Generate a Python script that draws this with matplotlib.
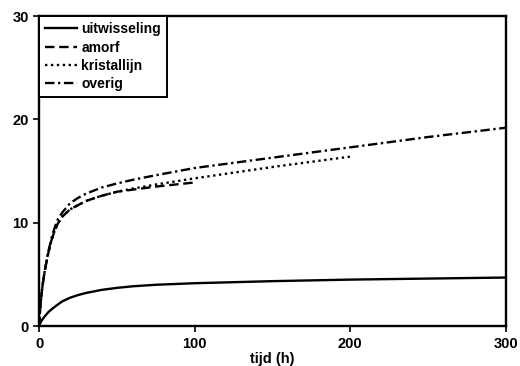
import matplotlib
matplotlib.use("Agg")
import matplotlib.pyplot as plt

plt.rcParams['font.family'] = ['Liberation Sans', 'DejaVu Sans']
plt.rcParams['font.weight'] = 'bold'
plt.rcParams['axes.labelweight'] = 'bold'

t_all = [0, 1, 2, 3, 4, 6, 8, 10, 12, 15, 20, 25, 30, 40, 50, 60, 75, 100, 125, 150, 200, 250, 300]
uitwisseling = [0, 0.35, 0.6, 0.82, 1.0, 1.35, 1.62, 1.85, 2.08, 2.4, 2.75, 3.0, 3.2, 3.5, 3.7, 3.85, 4.0, 4.15, 4.25, 4.35, 4.5, 4.6, 4.7]
overig = [0, 2.2, 3.6, 4.7, 5.6, 7.2, 8.5, 9.5, 10.3, 11.0, 11.9, 12.4, 12.8, 13.4, 13.8, 14.15, 14.6, 15.3, 15.8, 16.3, 17.3, 18.3, 19.2]

t_amorf = [0, 1, 2, 3, 4, 6, 8, 10, 12, 15, 20, 25, 30, 40, 50, 60, 75, 100]
amorf = [0, 2.2, 3.6, 4.7, 5.6, 7.1, 8.3, 9.2, 9.9, 10.6, 11.3, 11.7, 12.1, 12.6, 13.0, 13.2, 13.5, 13.9]

t_kris = [0, 1, 2, 3, 4, 6, 8, 10, 12, 15, 20, 25, 30, 40, 50, 60, 75, 100, 125, 150, 200]
kristallijn = [0, 2.2, 3.6, 4.7, 5.6, 7.1, 8.3, 9.2, 9.9, 10.6, 11.3, 11.7, 12.1, 12.6, 13.0, 13.3, 13.7, 14.3, 14.85, 15.4, 16.4]

xticks = [0, 100, 200, 300]
yticks = [0, 10, 20, 30]

fig = plt.figure(figsize=(5.2, 3.66), dpi=100)
ax = fig.add_axes([0.075, 0.109, 0.898, 0.847])

lw = 1.7
ax.plot(t_all, uitwisseling, color='black', lw=lw, linestyle='-', label='uitwisseling')
ax.plot(t_amorf, amorf, color='black', lw=lw, linestyle=(0, (4, 2)), label='amorf')
ax.plot(t_kris, kristallijn, color='black', lw=lw, linestyle=(0, (1, 1.5)), label='kristallijn')
ax.plot(t_all, overig, color='black', lw=lw, linestyle=(0, (4, 1.5, 1, 1.5)), label='overig')

ax.set_xlim(0, 300)
ax.set_ylim(0, 30)
ax.set_xticks(xticks)
ax.set_yticks(yticks)
ax.tick_params(direction='out', length=4, width=1.2, labelsize=10.5, top=False, right=False)
for s in ax.spines.values():
    s.set_linewidth(1.7)
ax.set_xlabel('tijd (h)', fontsize=10.5, fontweight='bold', labelpad=1)

leg = ax.legend(loc='upper left', borderaxespad=0, fancybox=False, fontsize=10,
                handlelength=2.3, labelspacing=0.3, handletextpad=0.3,
                borderpad=0.45, framealpha=1)
leg.get_frame().set_edgecolor('black')
leg.get_frame().set_linewidth(1.4)

fig.savefig('out.png', dpi=100)
